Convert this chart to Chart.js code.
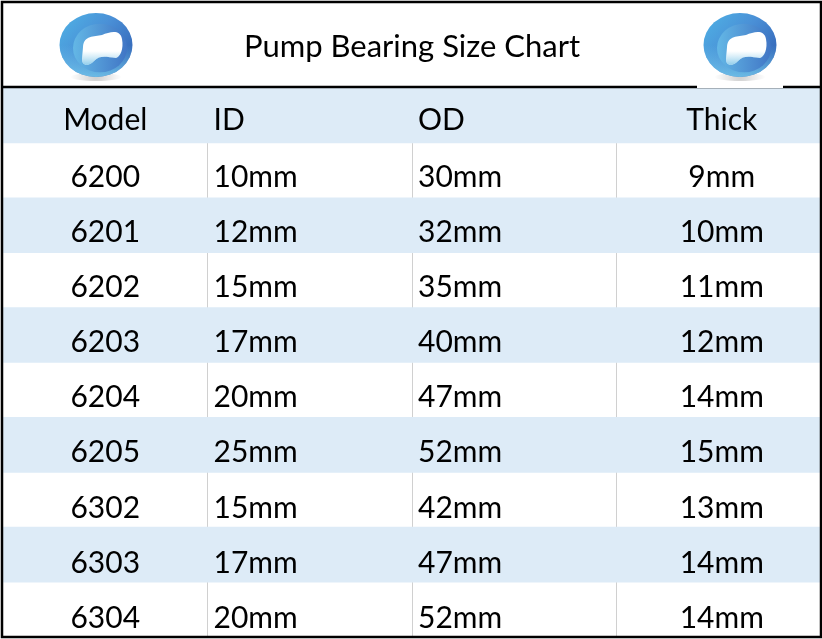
<!DOCTYPE html>
<html>
<head>
<meta charset="utf-8">
<title>Pump Bearing Size Chart</title>
<script src="https://cdn.jsdelivr.net/npm/chart.js@4/dist/chart.umd.min.js"></script>
<style>
  html, body { margin: 0; padding: 0; background: #fff; }
  canvas { display: block; }
</style>
</head>
<body>
<canvas id="sizeChart" width="822" height="639"></canvas>
<script>
// table data
const columns = ['Model', 'ID', 'OD', 'Thick'];
const models = ['6200', '6201', '6202', '6203', '6204', '6205', '6302', '6303', '6304'];
const innerDiameters = ['10mm', '12mm', '15mm', '17mm', '20mm', '25mm', '15mm', '17mm', '20mm'];
const outerDiameters = ['30mm', '32mm', '35mm', '40mm', '47mm', '52mm', '42mm', '47mm', '52mm'];
const thicknesses = ['9mm', '10mm', '11mm', '12mm', '14mm', '15mm', '13mm', '14mm', '14mm'];

const BLUE = '#DDEBF7';
const FONT = 'Lato';

const rowLabels = [columns[0]].concat(models);
// header + every second row is shaded
const rowFill = rowLabels.map((_, i) => i % 2 === 0 ? BLUE : 'rgba(0,0,0,0)');

// cell texts
const cellTextPlugin = {
    id: 'cellText',
    afterDatasetsDraw(chart) {
        const { ctx, scales: { x, y } } = chart;
        const table = [columns].concat(models.map((m, i) =>
            [m, innerDiameters[i], outerDiameters[i], thicknesses[i]]));

        ctx.save();
        ctx.font = `30px ${FONT}`;
        ctx.fillStyle = '#000';
        ctx.textBaseline = 'alphabetic';
        table.forEach((row, r) => {
            const yPos = y.getPixelForValue(r) + (r === 0 ? 14.5 : 16 + r * 0.25);
            row.forEach((text, c) => {
                if (c === 0 || c === 3) {
                    ctx.textAlign = 'center';
                    ctx.fillText(text, x.getPixelForValue(c + 0.5) + (c === 3 ? 3 : 0), yPos);
                } else {
                    ctx.textAlign = 'left';
                    ctx.fillText(text, x.getPixelForValue(c) + 6, yPos);
                }
            });
        });
        ctx.restore();
    }
};

// logo
function drawLogo(ctx, cx, cy) {
    const rx = 36.5, ry = 32;
    ctx.save();

    // shadow under the ball
    const sh = ctx.createRadialGradient(cx, cy + ry, 1, cx, cy + ry, rx * 0.7);
    sh.addColorStop(0, 'rgba(0,0,0,0.18)');
    sh.addColorStop(1, 'rgba(0,0,0,0)');
    ctx.fillStyle = sh;
    ctx.beginPath();
    ctx.ellipse(cx, cy + ry, rx * 0.7, 4, 0, 0, Math.PI * 2);
    ctx.fill();

    // outer ball
    const g = ctx.createLinearGradient(cx - rx, cy - ry, cx + rx, cy + ry);
    g.addColorStop(0, '#4fb4e6');
    g.addColorStop(0.45, '#4a8fd6');
    g.addColorStop(1, '#2c58ad');
    ctx.fillStyle = g;
    ctx.beginPath();
    ctx.ellipse(cx, cy, rx, ry, 0, 0, Math.PI * 2);
    ctx.fill();

    // lower light part
    const g2 = ctx.createLinearGradient(cx, cy, cx, cy + ry);
    g2.addColorStop(0, 'rgba(110,200,235,0)');
    g2.addColorStop(1, 'rgba(120,205,238,0.8)');
    ctx.fillStyle = g2;
    ctx.beginPath();
    ctx.ellipse(cx, cy, rx, ry, 0, 0, Math.PI * 2);
    ctx.fill();

    // inner ring
    const g3 = ctx.createLinearGradient(cx - rx, cy, cx + rx, cy);
    g3.addColorStop(0, '#6cc8ee');
    g3.addColorStop(1, '#3d6fc2');
    ctx.fillStyle = g3;
    ctx.beginPath();
    ctx.ellipse(cx + 4, cy + 3, rx * 0.74, ry * 0.76, 0, 0, Math.PI * 2);
    ctx.fill();

    // white blob
    ctx.beginPath();
    ctx.moveTo(cx - 13, cy + 2);
    ctx.bezierCurveTo(cx - 12, cy - 10, cx - 2, cy - 8, cx + 6, cy - 10);
    ctx.bezierCurveTo(cx + 14, cy - 13, cx + 24, cy - 16, cx + 26, cy - 6);
    ctx.bezierCurveTo(cx + 28, cy + 4, cx + 24, cy + 12, cx + 20, cy + 13);
    ctx.bezierCurveTo(cx + 10, cy + 12, cx + 4, cy + 10, cx - 2, cy + 16);
    ctx.bezierCurveTo(cx - 6, cy + 21, cx - 14, cy + 22, cx - 14, cy + 14);
    ctx.closePath();
    ctx.fillStyle = '#fff';
    ctx.fill();
    ctx.clip();
    const g4 = ctx.createLinearGradient(cx, cy + 6, cx, cy + 22);
    g4.addColorStop(0, 'rgba(140,205,235,0)');
    g4.addColorStop(1, 'rgba(110,190,230,0.9)');
    ctx.fillStyle = g4;
    ctx.fillRect(cx - 20, cy + 6, 50, 20);
    ctx.restore();
}

// outer border, title divider and logos
const framePlugin = {
    id: 'frame',
    afterDraw(chart) {
        const { ctx, chartArea: { top } } = chart;
        ctx.save();
        ctx.strokeStyle = '#000';
        ctx.lineWidth = 2.5;
        ctx.strokeRect(2, 2, 819, 635);
        ctx.beginPath();
        ctx.moveTo(2, top - 1);
        ctx.lineTo(821, top - 1);
        ctx.stroke();
        // right logo sits on a white patch over the divider
        ctx.fillStyle = '#fff';
        ctx.fillRect(697, top - 3, 86, 3);
        ctx.restore();

        drawLogo(ctx, 96, 45);
        drawLogo(ctx, 740, 45);
    }
};

new Chart(document.getElementById('sizeChart').getContext('2d'), {
    type: 'bar',
    data: {
        labels: rowLabels,
        datasets: [{
            data: rowLabels.map(() => [0, 4]),
            backgroundColor: rowFill,
            borderWidth: 0,
            barPercentage: 1,
            categoryPercentage: 1
        }]
    },
    plugins: [cellTextPlugin, framePlugin],
    options: {
        indexAxis: 'y',
        responsive: false,
        animation: false,
        layout: { padding: { left: 3, right: 1, top: 2, bottom: 2 } },
        plugins: {
            legend: { display: false },
            tooltip: { enabled: false },
            title: {
                display: true,
                text: 'Pump Bearing Size Chart',
                color: '#000',
                font: { family: FONT, size: 31, weight: 'normal' },
                padding: { top: 26, bottom: 22.8 }
            }
        },
        scales: {
            x: {
                min: 0,
                max: 4,
                ticks: { display: false, stepSize: 1 },
                grid: {
                    drawTicks: false,
                    lineWidth: 1,
                    color: (c) => (c.tick && c.tick.value > 0 && c.tick.value < 4) ? '#d0d0d0' : 'rgba(0,0,0,0)'
                },
                border: { display: false }
            },
            y: { display: false }
        }
    }
});
</script>
</body>
</html>
